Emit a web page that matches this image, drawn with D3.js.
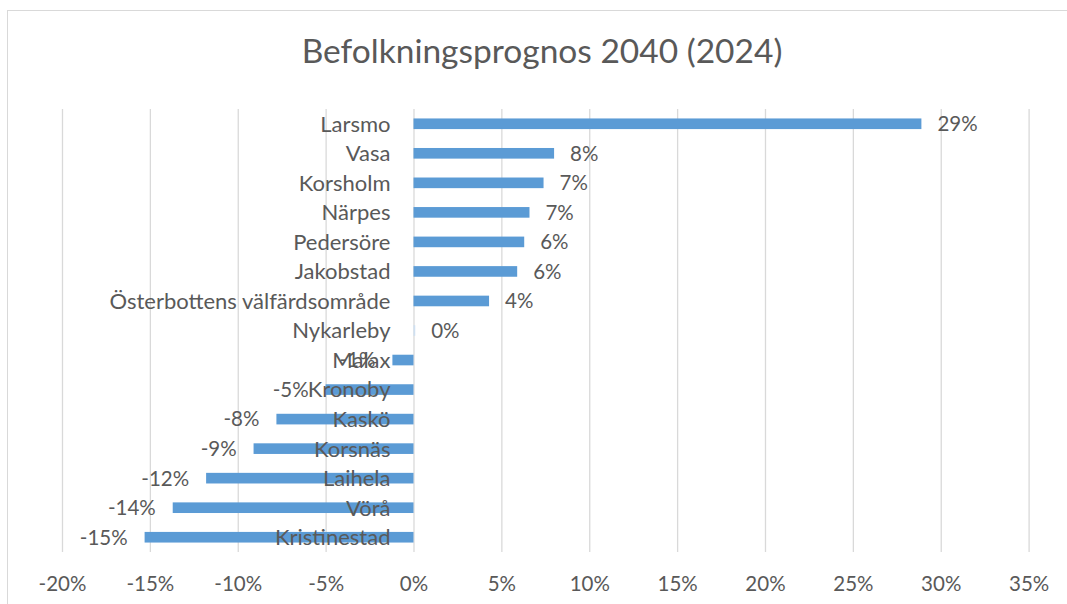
<!DOCTYPE html>
<html>
<head>
<meta charset="utf-8">
<script src="https://cdn.jsdelivr.net/npm/d3@7"></script>
<style>
  html, body { margin: 0; padding: 0; background: #fff; }
  svg { display: block; }
  text { font-family: Lato, "Open Sans", sans-serif; fill: #595959; }
</style>
</head>
<body>
<svg id="chart" width="1067" height="604"></svg>
<script>
const title = "Befolkningsprognos 2040 (2024)";
const categories = ["Larsmo", "Vasa", "Korsholm", "Närpes", "Pedersöre", "Jakobstad",
  "Österbottens välfärdsområde", "Nykarleby", "Malax", "Kronoby", "Kaskö", "Korsnäs",
  "Laihela", "Vörå", "Kristinestad"];
const values = [0.289, 0.080, 0.074, 0.066, 0.063, 0.059, 0.043, 0.001, -0.012, -0.050,
  -0.078, -0.091, -0.118, -0.137, -0.153];
const tickValues = [-0.20, -0.15, -0.10, -0.05, 0, 0.05, 0.10, 0.15, 0.20, 0.25, 0.30, 0.35];

const svg = d3.select("#chart");
const numSize = "20.5px";
const catSize = "22px";

// frame
svg.append("rect").attr("x", 7.5).attr("y", 10.5).attr("width", 1200).attr("height", 800)
  .attr("fill", "none").attr("stroke", "#d9d9d9").attr("stroke-width", 1);

const plotTop = 109, plotBottom = 552;
const x = d3.scaleLinear().domain([-0.20, 0.35]).range([62, 1028.6]);
const y = d3.scaleBand().domain(categories).range([plotTop, plotBottom])
  .paddingInner(0.64).paddingOuter(0.32);

const pct = d => Math.round(d * 100) + "%";

// axis + gridlines
const axis = d3.axisBottom(x).tickValues(tickValues).tickFormat(pct)
  .tickSizeInner(-(plotBottom - plotTop)).tickSizeOuter(0).tickPadding(24);
const gAxis = svg.append("g").attr("transform", `translate(0,${plotBottom})`).call(axis);
gAxis.select(".domain").remove();
gAxis.selectAll(".tick line").attr("stroke", "#d9d9d9").attr("stroke-width", 1.3);
gAxis.selectAll(".tick text").attr("fill", "#595959").style("font-size", numSize)
  .style("font-family", "Lato, 'Open Sans', sans-serif");

// title
svg.append("text").attr("x", 542).attr("y", 63).attr("text-anchor", "middle")
  .style("font-size", "33.5px").text(title);

// bars
svg.append("g").selectAll("rect").data(categories).join("rect")
  .attr("x", (d, i) => Math.min(x(0), x(values[i])))
  .attr("y", d => y(d))
  .attr("width", (d, i) => Math.max(0.8, Math.abs(x(values[i]) - x(0))))
  .attr("height", y.bandwidth())
  .attr("fill", (d, i) => Math.abs(values[i]) < 0.005 ? "#cfe0f1" : "#5b9bd5");

// data labels
svg.append("g").selectAll("text").data(categories).join("text")
  .attr("x", (d, i) => values[i] >= 0 ? x(values[i]) + 16 : x(values[i]) - 17)
  .attr("y", d => y(d) + y.bandwidth() / 2)
  .attr("dy", "0.36em")
  .attr("text-anchor", (d, i) => values[i] >= 0 ? "start" : "end")
  .style("font-size", numSize)
  .text((d, i) => pct(values[i]));

// category labels (drawn at zero axis)
svg.append("g").selectAll("text").data(categories).join("text")
  .attr("x", x(0) - 23)
  .attr("y", d => y(d) + y.bandwidth() / 2)
  .attr("dy", "0.36em")
  .attr("text-anchor", "end")
  .style("font-size", catSize)
  .text(d => d);
</script>
</body>
</html>
